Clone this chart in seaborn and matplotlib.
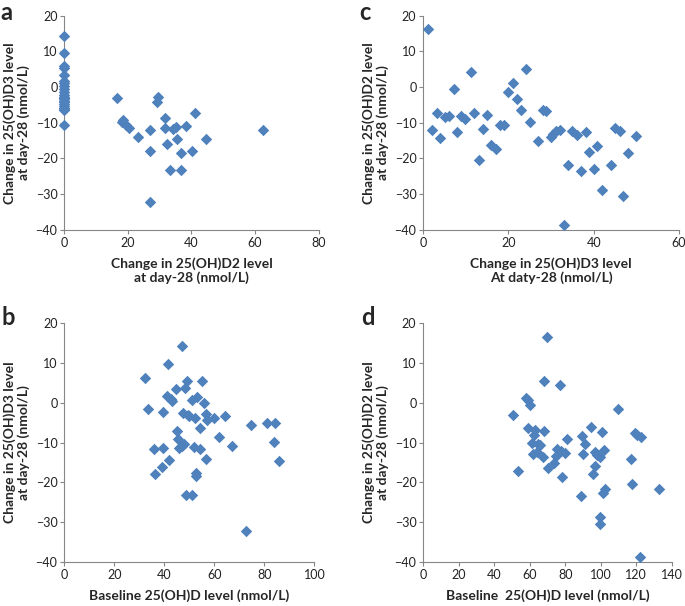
import numpy as np
import pandas as pd
import matplotlib.pyplot as plt
import seaborn as sns

sns.set_style("white")
plt.rcParams["font.family"] = ["Lato", "DejaVu Sans"]

# ---------------------------------------------------------
# Data
# ---------------------------------------------------------
# a: change in D2 (x) vs change in D3 (y)
a_x = [0] * 22 + [16.7, 18.6, 18.2, 19.3, 20.2, 23.2, 27.1, 27.1, 27.1, 29.4,
                  29.1, 31.6, 31.6, 32.2, 33.2, 34.3, 35.1, 35.5, 36.6, 36.8,
                  38.2, 40.2, 41.2, 44.6, 62.5]
a_y = [14.2, 9.6, 6.0, 5.4, 3.4, 1.7, 1.0, 0.3, -0.5, -1.5, -2.2, -2.8,
       -3.3, -3.8, -4.3, -4.8, -5.3, -5.8, -6.2, -6.5, -3.0, -10.7,
       -3.2, -9.1, -9.7, -10.7, -11.4, -14.1, -12.0, -17.9, -32.1, -2.9,
       -4.1, -8.8, -11.6, -16.1, -23.2, -11.8, -11.2, -14.5, -18.5, -23.2,
       -10.9, -17.9, -7.2, -14.7, -12.1]

# c: change in D3 (x) vs change in D2 (y)
c_x = [1.2, 2.1, 3.1, 3.9, 5.1, 6.0, 7.1, 8.0, 8.9, 9.9, 11.1, 12.0, 13.1,
       14.0, 15.0, 16.0, 17.0, 18.0, 19.0, 20.0, 21.0, 22.0, 23.0, 24.0,
       25.0, 27.0, 28.0, 28.9, 30.0, 30.5, 31.1, 32.1, 33.1, 34.0, 35.0,
       36.1, 37.1, 38.1, 39.0, 40.1, 40.9, 42.0, 44.0, 45.1, 46.1, 47.0,
       48.0, 50.0]
c_y = [16.4, -12.1, -7.4, -14.3, -8.5, -8.2, -0.5, -12.7, -8.2, -9.0, 4.2,
       -7.2, -20.4, -11.9, -7.7, -16.2, -17.3, -10.7, -10.6, -1.5, 1.0,
       -3.4, -6.4, 5.2, -9.9, -15.0, -6.3, -6.7, -14.0, -13.3, -12.3,
       -12.0, -38.8, -21.8, -12.4, -13.4, -23.6, -12.6, -18.1, -22.9,
       -16.5, -28.9, -21.8, -11.6, -12.3, -30.5, -18.6, -13.6]

# b: baseline 25(OH)D (x) vs change in D3 (y)
b_x = [32.3, 33.5, 35.9, 36.3, 39.3, 39.2, 39.6, 41.5, 41.1, 41.9, 42.5,
       43.2, 44.5, 45.1, 45.6, 45.9, 46.9, 47.1, 47.6, 47.7, 48.3, 48.8,
       49.2, 49.3, 50.0, 51.1, 51.1, 52.0, 52.4, 52.7, 52.7, 52.9, 54.4,
       54.4, 54.9, 56.0, 56.7, 56.8, 57.0, 60.0, 62.0, 64.4, 67.2, 72.5,
       74.5, 80.9, 84.4, 83.9, 85.9]
b_y = [6.1, -1.7, -11.7, -17.8, -11.3, -16.1, -2.4, 9.7, 1.7, -14.4, 1.0,
       0.3, 3.4, -7.0, -9.0, -11.4, 14.2, -10.9, -2.7, -10.4, 3.6, -23.1,
       5.5, -3.0, -3.4, -23.1, 0.6, -11.1, -3.8, -17.7, -18.4, 1.5, -11.7,
       -6.3, 5.5, 0.0, -14.1, -2.9, -4.4, -3.8, -8.5, -3.3, -10.9, -32.2,
       -5.6, -5.2, -5.2, -9.8, -14.6]

# d: baseline 25(OH)D (x) vs change in D2 (y)
d_x = [50.8, 53.4, 57.9, 58.8, 60.2, 58.8, 61.5, 61.7, 62.6, 63.0, 63.9,
       64.8, 65.8, 67.9, 67.7, 68.0, 69.5, 70.3, 73.9, 74.8, 75.4, 77.1,
       77.8, 78.4, 80.1, 80.8, 88.7, 89.5, 89.8, 91.2, 94.7, 95.9, 96.8,
       96.6, 97.7, 99.8, 99.6, 99.6, 100.9, 101.9, 101.5, 102.6, 109.6,
       117.1, 117.9, 119.4, 120.7, 122.6, 122.0, 133.1]
d_y = [-3.2, -17.1, 1.2, 0.6, -0.6, -6.4, -10.2, -12.9, -8.2, -6.9, -12.4,
       -10.4, -10.7, 5.3, -13.7, -7.2, 16.5, -16.4, -15.1, -13.3, -11.5,
       4.4, -12.1, -18.6, -12.6, -9.0, -23.5, -8.4, -12.8, -10.4, -6.2,
       -17.9, -16.0, -12.4, -13.1, -13.7, -28.7, -30.4, -7.3, -11.8,
       -22.7, -21.6, -1.5, -14.2, -20.3, -7.6, -8.0, -8.5, -38.7, -21.6]

ylab_d3 = "Change in 25(OH)D3 level\nat day-28 (nmol/L)"
ylab_d2 = "Change in 25(OH)D2 level\nat day-28 (nmol/L)"

panels = [
    ("a", a_x, a_y, [0.094, 0.621, 0.371, 0.353], (0, 80), 20,
     "Change in 25(OH)D2 level\nat day-28 (nmol/L)", ylab_d3),
    ("c", c_x, c_y, [0.618, 0.621, 0.373, 0.353], (0, 60), 20,
     "Change in 25(OH)D3 level\nAt daty-28 (nmol/L)", ylab_d2),
    ("b", b_x, b_y, [0.094, 0.072, 0.365, 0.3955], (0, 100), 20,
     "Baseline 25(OH)D level (nmol/L)", ylab_d3),
    ("d", d_x, d_y, [0.618, 0.072, 0.3625, 0.3955], (0, 140), 20,
     "Baseline  25(OH)D level (nmol/L)", ylab_d2),
]

blue = "#4F81BD"
spine_col = "#868686"

fig = plt.figure(figsize=(6.85, 6.06), dpi=100)

for letter, xs, ys, pos, xlim, xstep, xlab, ylab in panels:
    ax = fig.add_axes(pos)
    df = pd.DataFrame({"x": xs, "y": ys})
    sns.scatterplot(data=df, x="x", y="y", ax=ax, marker="D", s=34,
                    color=blue, edgecolor=blue, linewidth=0, clip_on=False,
                    zorder=3)
    ax.set_xlim(*xlim)
    ax.set_ylim(-40, 20)
    ax.set_xticks(np.arange(xlim[0], xlim[1] + 1, xstep))
    ax.set_yticks(np.arange(-40, 21, 10))
    for side in ["top", "right"]:
        ax.spines[side].set_visible(False)
    for side in ["left", "bottom"]:
        ax.spines[side].set_color(spine_col)
        ax.spines[side].set_linewidth(0.8)
    ax.tick_params(axis="both", direction="out", length=3, width=0.8,
                   color=spine_col, labelsize=9, labelcolor="#222222",
                   left=True, bottom=True, pad=2)
    ax.set_xlabel(xlab, fontsize=10, fontweight="bold", labelpad=6,
                  linespacing=1.15)
    ax.set_ylabel(ylab, fontsize=10, fontweight="bold", va="center",
                  linespacing=1.1)
    # centre of the two-line y label sits ~48 px left of the y axis
    ax.yaxis.set_label_coords(-48 / (pos[2] * 685), 0.5)
    ax.text(-0.25, 1.07, letter, transform=ax.transAxes, fontsize=17,
            fontweight="bold", va="top", ha="left")

fig.savefig("out.png", dpi=100)
